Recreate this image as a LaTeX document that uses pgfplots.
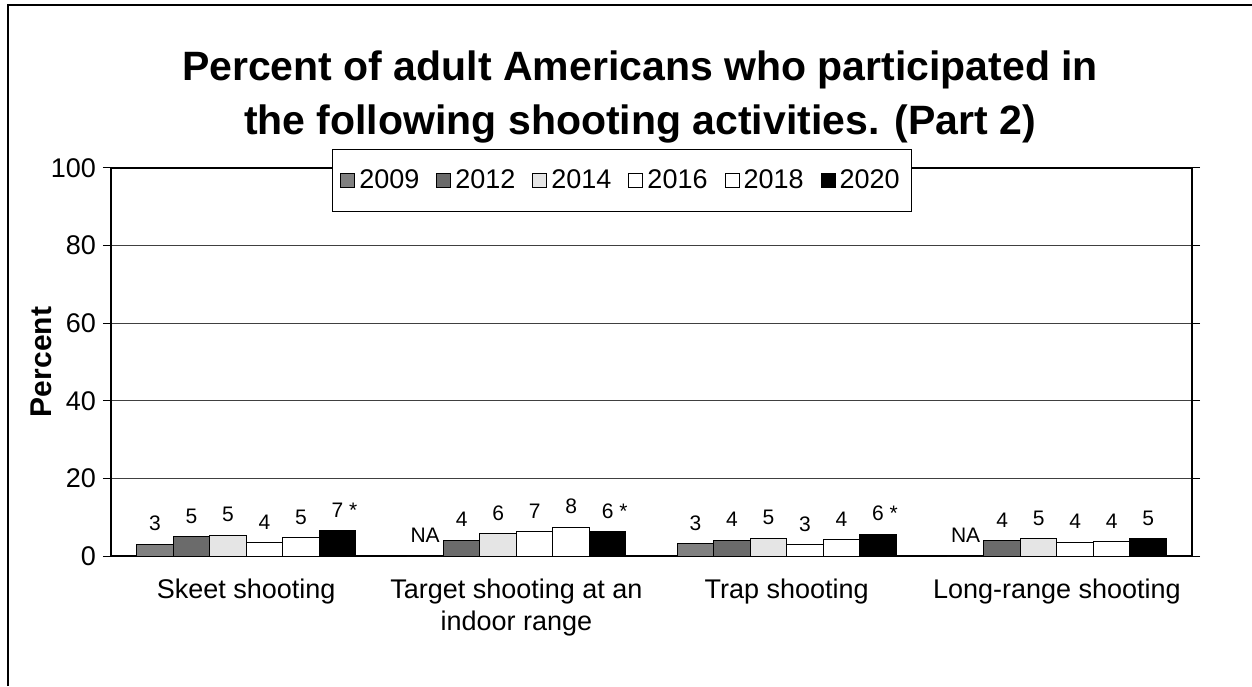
\documentclass[border=0pt]{standalone}
\usepackage{fontspec}
\setmainfont{Liberation Sans}
\usepackage{pgfplots}
\pgfplotsset{compat=1.18}
\begin{document}
\begin{tikzpicture}
\path[use as bounding box] (0pt,0pt) rectangle (626pt,343pt);
\draw[line width=0.6pt] (4pt,0pt) -- (4pt,340.5pt) -- (626pt,340.5pt);
\node[align=center, font=\fontsize{20.5}{27}\selectfont\bfseries] at (320pt,294.5pt)
  {Percent of adult Americans who participated in\\the following shooting activities. (Part 2)};
\begin{axis}[
    at={(55.5pt,65pt)}, anchor=south west,
    scale only axis, width=540.5pt, height=194pt,
    ybar=0pt, bar width=18.25pt,
    ymin=0, ymax=100, ytick={0,20,...,100},
    xmin=-0.5, xmax=3.5,
    xtick={0,1,2,3},
    xticklabels={Skeet shooting, {Target shooting at an\\indoor range}, Trap shooting, Long-range shooting},
    x tick style={draw=none},
    extra x ticks={-0.5,0.5,1.5,2.5,3.5},
    extra x tick labels={},
    extra x tick style={major tick length=4pt, tick align=outside, tick style={draw=black, line width=0.5pt}},
    y tick style={draw=black, line width=0.5pt},
    tick align=outside, major tick length=4pt,
    ymajorgrids, grid style={black!75, line width=0.4pt},
    axis line style={line width=0.8pt},
    /pgf/number format/assume math mode=true,
    tick label style={font=\fontsize{13.5}{16}\selectfont},
    xticklabel style={align=center, yshift=-4pt},
    ylabel={\bfseries Percent},
    ylabel style={font=\fontsize{15}{18}\selectfont, at={(axis description cs:-0.064,0.5)}, anchor=center},
    nodes near coords,
    point meta=explicit symbolic,
    every node near coord/.append style={font=\fontsize{10.5}{12}\selectfont, anchor=south, yshift=3pt, black},
    legend columns=-1,
    legend style={at={(axis description cs:0.4727,0.9670)}, anchor=center, draw=black, fill=white,
        font=\fontsize{13.5}{16}\selectfont, inner xsep=4pt, inner ysep=8pt,
        /tikz/every even column/.append style={column sep=6.5pt}},
    legend image code/.code={\draw[#1, line width=0.5pt] (0pt,-3.5pt) rectangle (7pt,3.5pt);},
]
\addplot[fill=black!50, draw=black, line width=0.5pt] coordinates {
    (0,3.0) [3] (1,0) [NA] (2,3.2) [3] (3,0) [NA]
};
\addlegendentry{2009}
\addplot[fill=black!58, draw=black, line width=0.5pt] coordinates {
    (0,5.0) [5] (1,4.1) [4] (2,4.1) [4] (3,4.0) [4]
};
\addlegendentry{2012}
\addplot[fill=black!10, draw=black, line width=0.5pt] coordinates {
    (0,5.4) [5] (1,5.8) [6] (2,4.6) [5] (3,4.4) [5]
};
\addlegendentry{2014}
\addplot[fill=white, draw=black, line width=0.5pt] coordinates {
    (0,3.5) [4] (1,6.4) [7] (2,2.9) [3] (3,3.6) [4]
};
\addlegendentry{2016}
\addplot[fill=white, draw=black, line width=0.5pt] coordinates {
    (0,4.8) [5] (1,7.4) [8] (2,4.2) [4] (3,3.8) [4]
};
\addlegendentry{2018}
\addplot[fill=black, draw=black, line width=0.5pt] coordinates {
    (0,6.6) [7\rlap{\ *}] (1,6.2) [6\rlap{\ *}] (2,5.6) [6\rlap{\ *}] (3,4.5) [5]
};
\addlegendentry{2020}
\end{axis}
\end{tikzpicture}
\end{document}
